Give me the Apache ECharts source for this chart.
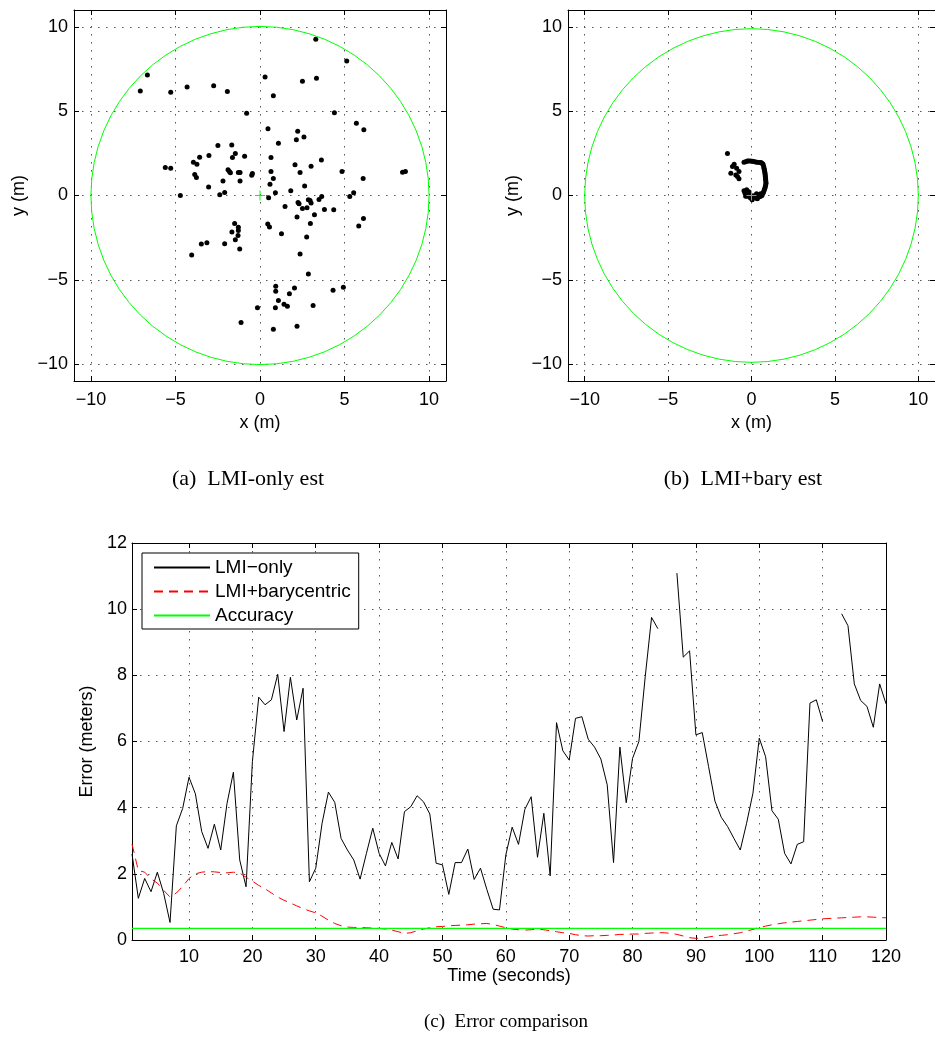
<!DOCTYPE html>
<html>
<head>
<meta charset="utf-8">
<script src="https://cdn.jsdelivr.net/npm/echarts@6/dist/echarts.min.js"></script>
<style>
  html, body { margin: 0; padding: 0; background: #fff; }
  #chart { width: 935px; height: 1039px; }
</style>
</head>
<body>
<div id="chart"></div>
<script>
// Position estimates (metres) from the LMI-only method
const lmiOnlyPoints = [
  [3.30,9.27],[5.13,7.97],[-6.66,7.14],[-7.08,6.20],[-5.28,6.12],[-4.31,6.43],[-2.74,6.51],[-1.93,6.16],
  [0.30,7.02],[2.51,6.78],[3.34,6.96],[0.79,5.92],[-0.79,4.87],[4.40,4.91],[5.70,4.28],[6.14,3.90],
  [0.47,3.96],[2.23,3.81],[2.15,3.31],[2.60,3.47],[1.09,3.10],[-2.49,2.96],[-1.67,3.00],[-3.02,2.37],
  [-3.57,2.27],[-3.94,1.97],[-3.73,1.85],[-1.46,2.49],[-1.63,2.26],[-0.91,2.33],[0.65,2.26],[3.63,2.11],
  [2.07,1.83],[3.02,1.74],[-5.60,1.66],[-5.28,1.62],[-1.89,1.52],[-1.81,1.43],[-1.75,1.35],[-1.28,1.37],
  [-1.18,1.37],[-3.86,1.24],[-3.76,1.07],[-0.45,1.31],[-0.49,1.20],[0.65,1.42],[2.37,1.36],[4.85,1.43],
  [8.43,1.38],[8.60,1.42],[6.10,1.01],[-2.19,0.86],[-1.18,0.86],[0.79,1.01],[0.59,0.67],[2.64,0.57],
  [-3.04,0.50],[1.82,0.28],[0.91,0.16],[0.51,-0.14],[-4.71,0.00],[-2.38,0.04],[-2.09,0.18],[2.25,-0.41],
  [2.31,-0.49],[2.86,-0.25],[2.96,-0.30],[3.02,-0.45],[3.49,-0.24],[3.65,-0.06],[1.48,-0.65],[2.51,-0.77],
  [2.78,-0.73],[3.81,-0.83],[4.36,-0.85],[5.31,-0.06],[5.54,0.16],[3.22,-1.14],[2.19,-1.28],[2.98,-1.66],
  [6.12,-1.36],[5.84,-1.81],[0.46,-1.69],[0.56,-1.87],[1.27,-2.27],[2.76,-2.46],[2.37,-3.47],[-1.50,-1.66],
  [-1.28,-1.89],[-1.28,-2.07],[-1.66,-2.17],[-1.30,-2.37],[-1.46,-2.62],[-1.20,-3.17],[-2.09,-2.86],[-3.14,-2.80],
  [-3.47,-2.88],[-4.04,-3.53],[2.86,-4.65],[0.93,-5.38],[0.93,-5.68],[2.04,-5.48],[1.74,-5.82],[1.09,-6.23],
  [1.42,-6.45],[1.62,-6.57],[0.91,-6.66],[-0.15,-6.66],[3.14,-6.53],[4.32,-5.62],[4.93,-5.44],[-1.12,-7.53],
  [0.79,-7.93],[2.19,-7.75]
];

// Position estimates (metres) from LMI + barycentric refinement
const baryPoints = [
  [-1.44,2.49],[-1.04,1.86],[-1.14,1.72],[-0.89,1.62],[-0.75,1.42],[-1.24,1.32],[-0.94,1.22],[-0.84,1.13],
  [-0.75,0.99],[-0.45,1.97],[-0.35,2.00],[-0.25,2.05],[-0.16,2.05],[-0.06,2.05],[0.04,2.03],[0.14,2.01],
  [0.24,1.99],[0.34,1.97],[0.46,1.96],[0.57,1.95],[0.65,1.90],[0.69,1.86],[0.73,1.72],[0.75,1.62],
  [0.77,1.52],[0.79,1.42],[0.81,1.32],[0.82,1.22],[0.83,1.13],[0.84,1.03],[0.85,0.93],[0.86,0.83],
  [0.87,0.73],[0.85,0.63],[0.83,0.53],[0.80,0.43],[0.77,0.34],[0.73,0.24],[0.69,0.14],[0.63,0.00],
  [0.53,-0.06],[0.44,0.04],[0.30,0.10],[0.14,-0.01],[-0.06,-0.15],[-0.25,-0.05],[-0.39,0.14],[-0.45,0.28],
  [-0.29,0.34],[-0.16,0.22],[0.04,-0.25],[0.24,-0.15],[0.44,-0.09],[-0.25,0.04],[-0.35,-0.05],[0.55,0.10],
  [0.35,-0.20],[-0.10,0.10]
];

// True node location and the radius of the search region (metres)
const trueLocation = [0, 0];
const regionRadius = 10;

// Error over time
const timeSec = [
  1,2,3,4,5,6,7,8,9,10,11,12,13,14,15,16,17,18,19,20,
  21,22,23,24,25,26,27,28,29,30,31,32,33,34,35,36,37,38,39,40,
  41,42,43,44,45,46,47,48,49,50,51,52,53,54,55,56,57,58,59,60,
  61,62,63,64,65,66,67,68,69,70,71,72,73,74,75,76,77,78,79,80,
  81,82,83,84,85,86,87,88,89,90,91,92,93,94,95,96,97,98,99,100,
  101,102,103,104,105,106,107,108,109,110,111,112,113,114,115,116,117,118,119,120
];
const errLmiOnly = [
  2.60,1.26,1.86,1.46,2.05,1.41,0.53,3.45,3.98,4.92,4.42,3.28,2.77,3.50,2.72,4.13,5.07,2.42,1.61,5.39,
  7.34,7.11,7.26,8.03,6.30,7.94,6.65,7.61,1.76,2.17,3.53,4.47,4.16,3.07,2.72,2.42,1.84,2.62,3.38,2.62,
  2.24,2.95,2.45,3.88,4.03,4.36,4.18,3.81,2.32,2.27,1.38,2.34,2.34,2.75,1.83,2.17,1.53,0.93,0.91,2.57,
  3.41,2.89,3.95,4.33,2.50,3.83,1.94,6.57,5.72,5.44,6.70,6.75,6.07,5.83,5.47,4.69,2.34,5.83,4.15,5.49,
  6.00,7.96,9.75,9.41,null,null,11.09,8.55,8.74,6.20,6.27,5.24,4.20,3.71,3.43,3.07,2.72,3.53,4.44,6.10,
  5.54,3.91,3.65,2.62,2.30,2.89,2.97,7.16,7.26,6.60,null,null,9.86,9.50,7.74,7.24,7.06,6.43,7.74,7.14
];
const errLmiBary = [
  2.90,2.10,2.05,1.85,1.72,1.50,1.30,1.42,1.62,1.86,2.00,2.05,2.07,2.06,2.04,2.03,2.05,2.02,1.90,1.78,
  1.65,1.55,1.42,1.30,1.20,1.12,1.03,0.95,0.88,0.82,0.72,0.60,0.50,0.43,0.39,0.38,0.38,0.37,0.36,0.35,
  0.33,0.30,0.25,0.20,0.22,0.28,0.33,0.37,0.40,0.41,0.43,0.44,0.45,0.46,0.48,0.49,0.50,0.47,0.42,0.37,
  0.33,0.31,0.30,0.31,0.33,0.31,0.28,0.25,0.22,0.20,0.16,0.13,0.12,0.13,0.13,0.14,0.15,0.17,0.17,0.18,
  0.18,0.20,0.21,0.22,0.22,0.20,0.17,0.12,0.07,0.05,0.06,0.09,0.12,0.14,0.16,0.19,0.22,0.27,0.32,0.38,
  0.42,0.46,0.49,0.52,0.54,0.56,0.58,0.60,0.62,0.64,0.65,0.66,0.67,0.68,0.69,0.70,0.70,0.69,0.68,0.67
];
const accuracyLevel = 0.35;

// Tick values
const posTicks = [-10, -5, 0, 5, 10];
const timeTicks = [10, 20, 30, 40, 50, 60, 70, 80, 90, 100, 110, 120];
const errTicks = [0, 2, 4, 6, 8, 10, 12];

const SANS = 'Liberation Sans, Arial, Helvetica, sans-serif';
const SERIF = 'Liberation Serif, Times New Roman, serif';
const FS = 18;
const minus = v => String(v).replace('-', '\u2212');
const grid = { color: '#555', type: [1.5, 6.5], width: 1 };

// Main (labelled) axis on the bottom or left side of a box
function mainAxis(gridIndex, position, min, max, ticks, name, nameGap, labelMargin) {
  return {
    type: 'value', gridIndex, position, min, max,
    axisLine: { show: true, onZero: false, lineStyle: { color: '#000', width: 1 } },
    axisTick: { show: true, inside: true, length: 5, customValues: ticks, lineStyle: { color: '#000' } },
    axisLabel: { show: true, customValues: ticks, formatter: minus, color: '#000',
                 fontSize: FS, fontFamily: SANS, margin: labelMargin },
    splitLine: { show: true, customValues: ticks, lineStyle: grid },
    name, nameLocation: 'middle', nameGap,
    nameTextStyle: { color: '#000', fontSize: FS, fontFamily: SANS }
  };
}
// Mirror axis on the top or right side, ticks only
function mirrorAxis(gridIndex, position, min, max, ticks) {
  return {
    type: 'value', gridIndex, position, min, max,
    axisLine: { show: true, onZero: false, lineStyle: { color: '#000', width: 1 } },
    axisTick: { show: true, inside: true, length: 5, customValues: ticks, lineStyle: { color: '#000' } },
    axisLabel: { show: false },
    splitLine: { show: false }
  };
}

// Region circle and true-location cross
function regionRender(params, api) {
  const c = api.coord([api.value(0), api.value(1)]);
  const r = api.size([api.value(2), 0])[0];
  const h = 5;
  const st = { stroke: '#00ff00', lineWidth: 1, fill: null };
  return {
    type: 'group',
    children: [
      { type: 'circle', shape: { cx: c[0], cy: c[1], r: r }, style: st },
      { type: 'line', shape: { x1: c[0] - h, y1: c[1], x2: c[0] + h, y2: c[1] }, style: st },
      { type: 'line', shape: { x1: c[0], y1: c[1] - h, x2: c[0], y2: c[1] + h }, style: st }
    ]
  };
}

const regionData = [[trueLocation[0], trueLocation[1], regionRadius]];
const toXY = arr => timeSec.map((t, i) => [t, arr[i] === null ? '-' : arr[i]]);

const option = {
  animation: false,
  backgroundColor: '#fff',
  grid: [
    { left: 74, top: 10, width: 372, height: 371 },
    { left: 568, top: 10, width: 372, height: 371 },
    { left: 132, top: 543, width: 754, height: 397 }
  ],
  xAxis: [
    mainAxis(0, 'bottom', -11, 11, posTicks, 'x (m)', 33, 10),
    mirrorAxis(0, 'top', -11, 11, posTicks),
    mainAxis(1, 'bottom', -11, 11, posTicks, 'x (m)', 33, 10),
    mirrorAxis(1, 'top', -11, 11, posTicks),
    mainAxis(2, 'bottom', 1, 120, timeTicks, 'Time (seconds)', 24, 8),
    mirrorAxis(2, 'top', 1, 120, timeTicks)
  ],
  yAxis: [
    mainAxis(0, 'left', -11, 11, posTicks, 'y (m)', 46, 6),
    mirrorAxis(0, 'right', -11, 11, posTicks),
    mainAxis(1, 'left', -11, 11, posTicks, 'y (m)', 46, 6),
    mirrorAxis(1, 'right', -11, 11, posTicks),
    mainAxis(2, 'left', 0, 12, errTicks, 'Error (meters)', 36, 5),
    mirrorAxis(2, 'right', 0, 12, errTicks)
  ],
  legend: {
    orient: 'vertical',
    left: 142, top: 553,
    data: ['LMI\u2212only', 'LMI+barycentric', 'Accuracy'],
    itemWidth: 56, itemHeight: 14, itemGap: 5,
    padding: [5, 8, 4, 11],
    borderColor: '#000', borderWidth: 1, backgroundColor: '#fff',
    itemStyle: { color: 'transparent', borderColor: 'transparent', borderWidth: 0, opacity: 0 },
    textStyle: { color: '#000', fontSize: 19, fontFamily: SANS },
    selectedMode: false
  },
  series: [
    { type: 'scatter', xAxisIndex: 0, yAxisIndex: 0, data: lmiOnlyPoints,
      symbolSize: 5, itemStyle: { color: '#000', opacity: 1 } },
    { type: 'custom', xAxisIndex: 0, yAxisIndex: 0, data: regionData,
      renderItem: regionRender, encode: { x: 0, y: 1 }, z: 3 },
    { type: 'scatter', xAxisIndex: 2, yAxisIndex: 2, data: baryPoints,
      symbolSize: 5, itemStyle: { color: '#000', opacity: 1 } },
    { type: 'custom', xAxisIndex: 2, yAxisIndex: 2, data: regionData,
      renderItem: regionRender, encode: { x: 0, y: 1 }, z: 3 },
    { name: 'LMI\u2212only', type: 'line', xAxisIndex: 4, yAxisIndex: 4, data: toXY(errLmiOnly),
      showSymbol: false, symbol: 'none', connectNulls: false,
      lineStyle: { color: '#000', width: 1 }, itemStyle: { color: '#000' } },
    { name: 'LMI+barycentric', type: 'line', xAxisIndex: 4, yAxisIndex: 4, data: toXY(errLmiBary),
      showSymbol: false, symbol: 'none',
      lineStyle: { color: '#ff0000', width: 1, type: [9, 6] }, itemStyle: { color: '#ff0000' } },
    { name: 'Accuracy', type: 'line', xAxisIndex: 4, yAxisIndex: 4,
      data: [[timeSec[0], accuracyLevel], [timeSec[timeSec.length - 1], accuracyLevel]],
      showSymbol: false, symbol: 'none',
      lineStyle: { color: '#00ff00', width: 1.2 }, itemStyle: { color: '#00ff00' } }
  ],
  graphic: [
    { type: 'text', style: { text: '(a)  LMI-only est', x: 248, y: 479, align: 'center', verticalAlign: 'middle',
      font: '22px ' + SERIF, fill: '#000' } },
    { type: 'text', style: { text: '(b)  LMI+bary est', x: 743, y: 479, align: 'center', verticalAlign: 'middle',
      font: '22px ' + SERIF, fill: '#000' } },
    { type: 'text', style: { text: '(c)  Error comparison', x: 506, y: 1022, align: 'center', verticalAlign: 'middle',
      font: '19px ' + SERIF, fill: '#000' } }
  ]
};

const chart = echarts.init(document.getElementById('chart'), null, { renderer: 'canvas' });
chart.setOption(option);
</script>
</body>
</html>
